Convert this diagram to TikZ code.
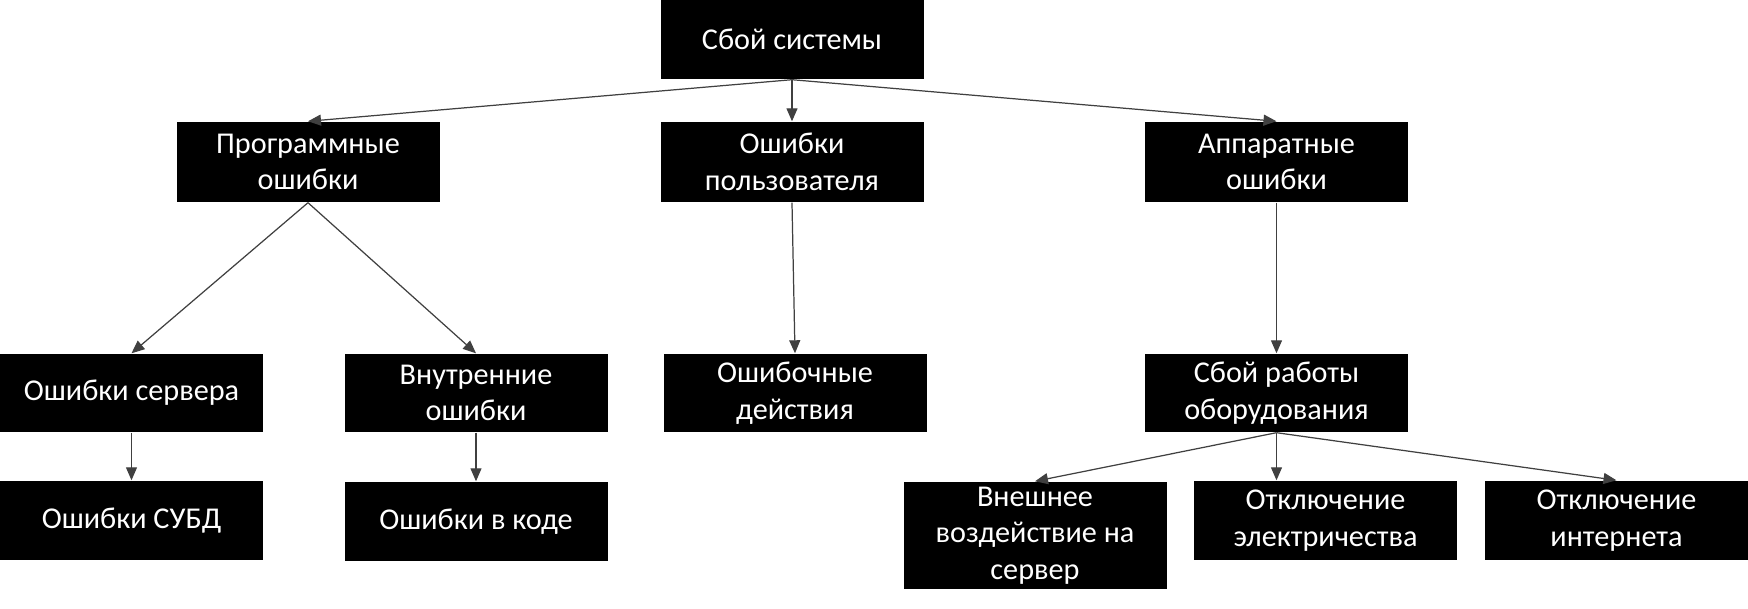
\documentclass[tikz,border=0pt]{standalone}
\usepackage{fontspec}
\setmainfont{Carlito}
\usetikzlibrary{arrows.meta}

\begin{document}
\begin{tikzpicture}[
    box/.style={fill=black, text=white, align=center, inner sep=0pt,
      minimum width=2.63cm, minimum height=0.79cm,
      font=\fontsize{8.6}{10.4}\selectfont},
    link/.style={draw=black!75, line width=0.35pt,
      -{Triangle[length=1.3mm,width=1.1mm]}}
  ]
  \useasboundingbox (0,0) rectangle (17.48,6.09);
  %root
  \node[box] (fail) at (7.92,5.695) {Сбой системы};
  %level 1
  \node[box, minimum height=0.8cm] (soft) at (3.08,4.47) {Программные\\ошибки};
  \node[box, minimum height=0.8cm] (user) at (7.92,4.47) {Ошибки\\пользователя};
  \node[box, minimum height=0.8cm] (hard) at (12.765,4.47) {Аппаратные\\ошибки};
  %level 2
  \node[box, minimum height=0.78cm] (server) at (1.315,2.16) {Ошибки сервера};
  \node[box, minimum height=0.78cm] (inner) at (4.76,2.16) {Внутренние\\ошибки};
  \node[box, minimum height=0.78cm] (acts) at (7.95,2.16) {Ошибочные\\действия};
  \node[box, minimum height=0.78cm] (equip) at (12.765,2.16) {Сбой работы\\оборудования};
  %level 3
  \node[box] (dbms) at (1.315,0.885) {Ошибки СУБД};
  \node[box] (code) at (4.76,0.875) {Ошибки в коде};
  \node[box, minimum height=1.07cm] (outer) at (10.35,0.735) {Внешнее\\воздействие на\\сервер};
  \node[box] (power) at (13.255,0.885) {Отключение\\электричества};
  \node[box] (inet) at (16.165,0.885) {Отключение\\интернета};

  \draw[link] (fail.south) -- (soft.north);
  \draw[link] (fail.south) -- (user.north);
  \draw[link] (fail.south) -- (hard.north);
  \draw[link] (soft.south) -- (server.north);
  \draw[link] (soft.south) -- (inner.north);
  \draw[link] (user.south) -- (acts.north);
  \draw[link] (hard.south) -- (equip.north);
  \draw[link] (server.south) -- (dbms.north);
  \draw[link] (inner.south) -- (code.north);
  \draw[link] (equip.south) -- (outer.north);
  \draw[link] (equip.south) -- (equip.south |- power.north);
  \draw[link] (equip.south) -- (inet.north);
\end{tikzpicture}
\end{document}
